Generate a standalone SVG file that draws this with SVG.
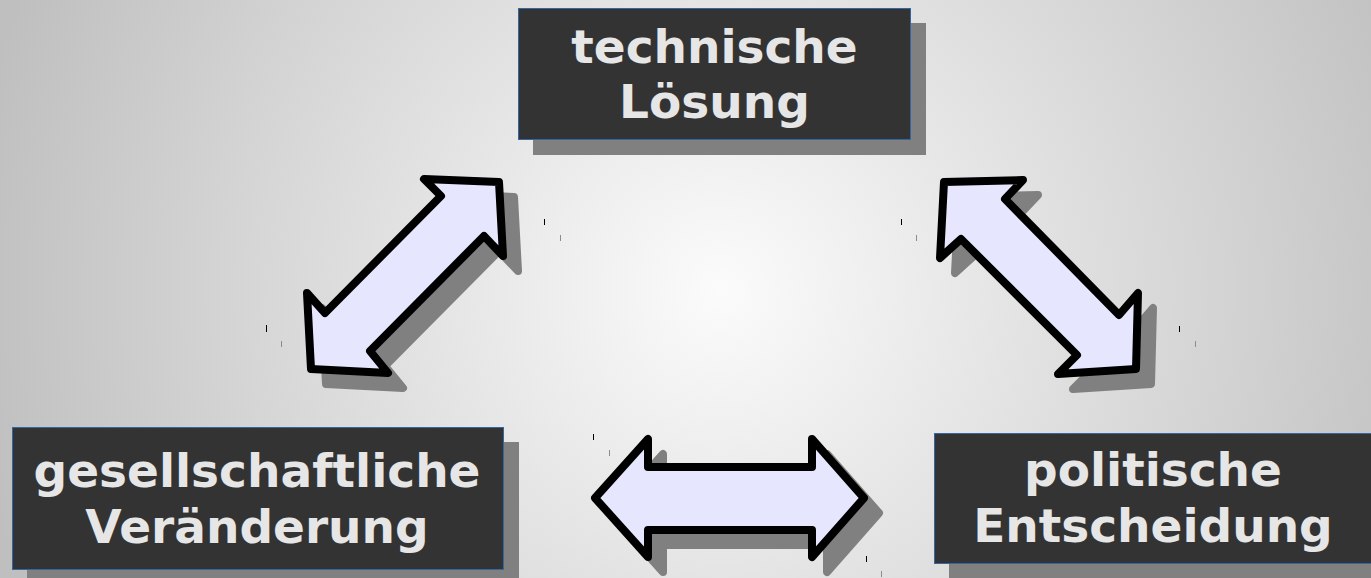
<svg xmlns="http://www.w3.org/2000/svg" width="1371" height="578" viewBox="0 0 1371 578">
  <defs>
    <radialGradient id="bg" gradientUnits="userSpaceOnUse" cx="720" cy="290" r="760">
      <stop offset="0" stop-color="#fbfbfb"/>
      <stop offset="1" stop-color="#bfbfbf"/>
    </radialGradient>
  </defs>
  <style>
    .box { fill: #333333; stroke: #3465a4; stroke-width: 1; }
    .shadow { fill: #808080; }
    .ashadow { fill: #808080; stroke: #808080; stroke-width: 8; stroke-linejoin: round; }
    .arrow { fill: #e6e6ff; stroke: #000000; stroke-width: 8; stroke-linejoin: round; }
    .label { font-family: "DejaVu Sans", "Liberation Sans", sans-serif; font-weight: bold; font-size: 47px; fill: #e6e6e6; text-anchor: middle; }
    .tick1 { stroke: #000000; stroke-width: 1; }
    .tick2 { stroke: #8c8c8c; stroke-width: 1; }
  </style>
  <rect x="0" y="0" width="1371" height="578" fill="url(#bg)"/>

  <g id="connectors">
    <g id="arrow-left">
      <polygon class="ashadow" transform="translate(15,15)" points="424,179 499,182 503,256 484,236 370,351 388,373 311,369 307,293 325,313 441,196"/>
      <polygon class="arrow" points="424,179 499,182 503,256 484,236 370,351 388,373 311,369 307,293 325,313 441,196"/>
    </g>
    <g id="arrow-right">
      <polygon class="ashadow" transform="translate(15,15)" points="944,182 1023,180 1005,199 1119,315 1138,293 1136,369 1058,374 1077,355 961,239 940,258"/>
      <polygon class="arrow" points="944,182 1023,180 1005,199 1119,315 1138,293 1136,369 1058,374 1077,355 961,239 940,258"/>
    </g>
    <g id="arrow-bottom">
      <polygon class="ashadow" transform="translate(15,15)" points="595,498 648,439 648,467 812,467 812,439 864,498 812,557 812,530 648,530 648,557"/>
      <polygon class="arrow" points="595,498 648,439 648,467 812,467 812,439 864,498 812,557 812,530 648,530 648,557"/>
    </g>
    <g id="ticks">
      <line class="tick1" x1="544.5" y1="219" x2="544.5" y2="225"/>
      <line class="tick2" x1="560.5" y1="235" x2="560.5" y2="241"/>
      <line class="tick1" x1="266.5" y1="325" x2="266.5" y2="332"/>
      <line class="tick2" x1="281.5" y1="341" x2="281.5" y2="347"/>
      <line class="tick1" x1="901.5" y1="219" x2="901.5" y2="225"/>
      <line class="tick2" x1="916.5" y1="235" x2="916.5" y2="241"/>
      <line class="tick1" x1="1179.5" y1="326" x2="1179.5" y2="332"/>
      <line class="tick2" x1="1195.5" y1="341" x2="1195.5" y2="347"/>
      <line class="tick1" x1="593.5" y1="434" x2="593.5" y2="440"/>
      <line class="tick2" x1="609.5" y1="450" x2="609.5" y2="456"/>
      <line class="tick1" x1="866.5" y1="556" x2="866.5" y2="562"/>
      <line class="tick2" x1="881.5" y1="571" x2="881.5" y2="577"/>
    </g>
  </g>

  <g id="node-technische">
    <rect class="shadow" x="533" y="23" width="393" height="132"/>
    <rect class="box" x="518.5" y="8.5" width="392" height="131"/>
    <text class="label" x="714.5" y="63">technische</text>
    <text class="label" x="714.5" y="118">Lösung</text>
  </g>

  <g id="node-gesellschaftlich">
    <rect class="shadow" x="27" y="442" width="492" height="143"/>
    <rect class="box" x="12.5" y="427.5" width="491" height="142"/>
    <text class="label" x="257" y="487">gesellschaftliche</text>
    <text class="label" x="257" y="543">Veränderung</text>
  </g>

  <g id="node-politisch">
    <rect class="shadow" x="949" y="448" width="440" height="140"/>
    <rect class="box" x="934.5" y="433.5" width="445" height="130"/>
    <text class="label" x="1153" y="486">politische</text>
    <text class="label" x="1153" y="542">Entscheidung</text>
  </g>
</svg>
